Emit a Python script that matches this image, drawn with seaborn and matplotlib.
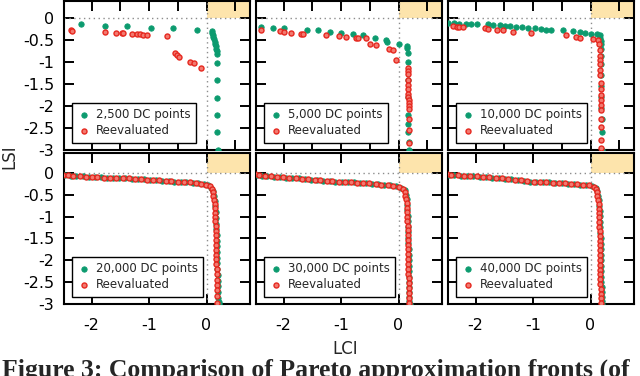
import numpy as np
import pandas as pd
import seaborn as sns
import matplotlib.pyplot as plt
from matplotlib.ticker import MultipleLocator, FuncFormatter

# panel titles (legend labels)
labels = ["2,500 DC points", "5,000 DC points", "10,000 DC points",
          "20,000 DC points", "30,000 DC points", "40,000 DC points"]

# --- 2,500 ---
g1_x = [-2.18, -1.77, -1.38, -0.97, -0.58, -0.17, 0.09, 0.10, 0.11, 0.12, 0.13, 0.14, 0.15, 0.16, 0.17, 0.18, 0.19, 0.19, 0.19, 0.19, 0.19, 0.19, 0.20]
g1_y = [-0.14, -0.17, -0.18, -0.22, -0.23, -0.27, -0.30, -0.34, -0.38, -0.43, -0.48, -0.53, -0.58, -0.63, -0.69, -0.75, -0.81, -1.01, -1.41, -1.81, -2.21, -2.60, -3.00]
r1_x = [-2.36, -2.34, -1.77, -1.58, -1.47, -1.45, -1.29, -1.21, -1.15, -1.10, -1.03, -0.68, -0.54, -0.51, -0.48, -0.28, -0.22, -0.09]
r1_y = [-0.26, -0.28, -0.31, -0.33, -0.33, -0.33, -0.35, -0.36, -0.36, -0.37, -0.37, -0.41, -0.80, -0.84, -0.88, -0.99, -1.02, -1.13]

# --- 5,000 ---
g2_x = [-2.39, -2.19, -1.99, -1.60, -1.40, -1.19, -1.00, -0.80, -0.61, -0.41, -0.21, -0.20, 0.00, 0.14, 0.14, 0.16, 0.16, 0.16, 0.17, 0.17, 0.17, 0.17, 0.18, 0.18]
g2_y = [-0.21, -0.22, -0.23, -0.26, -0.27, -0.31, -0.33, -0.35, -0.39, -0.46, -0.50, -0.53, -0.59, -0.64, -0.68, -0.80, -0.99, -1.41, -1.79, -2.20, -2.41, -2.60, -2.81, -3.00]
r2_x = [-2.39, -2.07, -1.99, -1.87, -1.70, -1.66, -1.27, -1.03, -0.91, -0.74, -0.70, -0.57, -0.50, -0.39, -0.16, -0.09, -0.05, 0.16, 0.17, 0.17, 0.17, 0.17, 0.17, 0.17, 0.17, 0.18, 0.18, 0.18, 0.18, 0.18, 0.18, 0.19]
r2_y = [-0.27, -0.29, -0.31, -0.33, -0.35, -0.35, -0.39, -0.41, -0.42, -0.44, -0.44, -0.46, -0.58, -0.60, -0.69, -0.73, -0.94, -1.14, -1.20, -1.27, -1.40, -1.52, -1.62, -1.72, -1.80, -1.86, -1.93, -2.00, -2.06, -2.30, -2.55, -2.85]

# --- 10,000 ---
g3_x = [-2.48, -2.37, -2.28, -2.16, -2.08, -1.98, -1.79, -1.69, -1.58, -1.48, -1.40, -1.30, -1.19, -1.09, -0.97, -0.87, -0.78, -0.68, -0.48, -0.30, -0.19, -0.09, 0.01, 0.11, 0.16, 0.17, 0.18, 0.18, 0.18, 0.19, 0.19, 0.19, 0.19, 0.19, 0.19, 0.20, 0.20, 0.20]
g3_y = [-0.11, -0.11, -0.12, -0.12, -0.14, -0.14, -0.14, -0.15, -0.16, -0.17, -0.18, -0.20, -0.21, -0.22, -0.23, -0.25, -0.26, -0.26, -0.27, -0.30, -0.32, -0.33, -0.35, -0.36, -0.39, -0.46, -0.52, -0.58, -0.70, -0.85, -1.05, -1.30, -1.55, -1.80, -2.05, -2.30, -2.60, -3.00]
r3_x = [-2.39, -2.33, -2.28, -2.22, -1.84, -1.79, -1.63, -1.53, -1.35, -1.03, -0.43, -0.25, -0.19, 0.04, 0.13, 0.15, 0.16, 0.16, 0.17, 0.17, 0.17, 0.17, 0.18, 0.18, 0.18, 0.18, 0.18, 0.18, 0.19, 0.19, 0.19, 0.19]
r3_y = [-0.18, -0.20, -0.20, -0.21, -0.23, -0.25, -0.26, -0.27, -0.31, -0.33, -0.39, -0.42, -0.45, -0.48, -0.50, -0.58, -0.73, -0.85, -0.95, -1.05, -1.18, -1.30, -1.48, -1.60, -1.75, -1.86, -1.97, -2.09, -2.30, -2.47, -2.77, -2.96]

# --- 20,000 ---
g4h_x = [-2.46, -2.36, -2.27, -2.15, -2.05, -1.94, -1.83, -1.74, -1.62, -1.52, -1.41, -1.30, -1.20, -1.09, -0.98, -0.88, -0.77, -0.66, -0.56, -0.45, -0.35, -0.24, -0.14, -0.05, 0.03]
g4h_y = [-0.06, -0.07, -0.08, -0.08, -0.09, -0.10, -0.10, -0.11, -0.12, -0.12, -0.13, -0.14, -0.14, -0.15, -0.16, -0.17, -0.18, -0.19, -0.20, -0.21, -0.22, -0.23, -0.24, -0.26, -0.29]
g4v_x = [0.08, 0.11, 0.13, 0.14, 0.15, 0.16, 0.16, 0.17, 0.17, 0.18, 0.18, 0.18, 0.19, 0.19, 0.19, 0.19, 0.20, 0.20, 0.20, 0.20, 0.20, 0.21, 0.21]
g4v_y = [-0.34, -0.42, -0.52, -0.64, -0.77, -0.90, -1.03, -1.16, -1.29, -1.42, -1.55, -1.68, -1.81, -1.94, -2.07, -2.20, -2.33, -2.46, -2.59, -2.72, -2.85, -2.94, -3.00]
r4h_x = [-2.49, -2.41, -2.32, -2.21, -2.10, -1.99, -1.90, -1.79, -1.68, -1.57, -1.46, -1.35, -1.25, -1.14, -1.03, -0.93, -0.82, -0.71, -0.61, -0.50, -0.40, -0.29, -0.19, -0.10, -0.01]
r4h_y = [-0.05, -0.06, -0.07, -0.08, -0.09, -0.09, -0.10, -0.11, -0.11, -0.12, -0.13, -0.13, -0.14, -0.15, -0.16, -0.16, -0.17, -0.18, -0.19, -0.20, -0.21, -0.22, -0.24, -0.25, -0.27]
r4v_x = [0.06, 0.09, 0.11, 0.12, 0.13, 0.14, 0.14, 0.15, 0.15, 0.15, 0.16, 0.16, 0.16, 0.16, 0.17, 0.17, 0.17, 0.17, 0.17, 0.18, 0.18, 0.18, 0.18, 0.18, 0.18, 0.18]
r4v_y = [-0.31, -0.37, -0.44, -0.53, -0.62, -0.71, -0.80, -0.91, -1.01, -1.11, -1.22, -1.33, -1.43, -1.54, -1.65, -1.76, -1.87, -1.98, -2.09, -2.20, -2.32, -2.44, -2.56, -2.68, -2.82, -2.98]

# --- 30,000 ---
g5h_x = [-2.47, -2.38, -2.28, -2.17, -2.06, -1.96, -1.85, -1.74, -1.63, -1.52, -1.41, -1.31, -1.20, -1.10, -0.99, -0.88, -0.78, -0.67, -0.57, -0.46, -0.35, -0.25, -0.14, -0.05, 0.05]
g5h_y = [-0.05, -0.07, -0.08, -0.09, -0.10, -0.11, -0.12, -0.13, -0.14, -0.16, -0.17, -0.18, -0.19, -0.20, -0.21, -0.22, -0.22, -0.23, -0.24, -0.25, -0.26, -0.28, -0.29, -0.31, -0.34]
g5v_x = [0.11, 0.13, 0.14, 0.15, 0.15, 0.16, 0.16, 0.17, 0.17, 0.17, 0.17, 0.18, 0.18, 0.18, 0.18, 0.18, 0.19, 0.19, 0.19, 0.19, 0.19, 0.19, 0.20]
g5v_y = [-0.40, -0.50, -0.61, -0.73, -0.86, -0.98, -1.11, -1.23, -1.36, -1.49, -1.61, -1.74, -1.87, -1.99, -2.12, -2.24, -2.37, -2.49, -2.61, -2.73, -2.84, -2.93, -3.00]
r5h_x = [-2.49, -2.43, -2.33, -2.22, -2.11, -2.01, -1.90, -1.79, -1.68, -1.57, -1.46, -1.36, -1.25, -1.15, -1.04, -0.93, -0.83, -0.72, -0.62, -0.51, -0.40, -0.30, -0.19, -0.09, 0.01]
r5h_y = [-0.04, -0.06, -0.07, -0.08, -0.09, -0.10, -0.12, -0.13, -0.14, -0.15, -0.16, -0.17, -0.18, -0.19, -0.20, -0.21, -0.22, -0.23, -0.24, -0.24, -0.25, -0.27, -0.28, -0.30, -0.32]
r5v_x = [0.08, 0.11, 0.12, 0.13, 0.14, 0.14, 0.15, 0.15, 0.15, 0.16, 0.16, 0.16, 0.16, 0.16, 0.17, 0.17, 0.17, 0.17, 0.17, 0.17, 0.18, 0.18, 0.18, 0.18, 0.18, 0.18]
r5v_y = [-0.36, -0.43, -0.52, -0.61, -0.70, -0.80, -0.90, -1.00, -1.10, -1.21, -1.31, -1.42, -1.53, -1.64, -1.75, -1.86, -1.97, -2.08, -2.19, -2.30, -2.41, -2.52, -2.63, -2.74, -2.86, -2.97]

# --- 40,000 ---
g6h_x = [-2.46, -2.37, -2.26, -2.15, -2.04, -1.93, -1.82, -1.71, -1.60, -1.49, -1.38, -1.27, -1.16, -1.05, -0.94, -0.83, -0.72, -0.61, -0.50, -0.39, -0.28, -0.18, -0.08, 0.02, 0.09]
g6h_y = [-0.05, -0.06, -0.07, -0.07, -0.08, -0.09, -0.10, -0.11, -0.12, -0.14, -0.15, -0.17, -0.18, -0.20, -0.21, -0.22, -0.22, -0.23, -0.24, -0.25, -0.26, -0.27, -0.28, -0.31, -0.35]
g6v_x = [0.12, 0.13, 0.14, 0.15, 0.16, 0.16, 0.17, 0.17, 0.17, 0.18, 0.18, 0.18, 0.18, 0.19, 0.19, 0.19, 0.19, 0.19, 0.20, 0.20, 0.20, 0.20, 0.20]
g6v_y = [-0.42, -0.52, -0.63, -0.75, -0.87, -0.99, -1.12, -1.24, -1.37, -1.49, -1.62, -1.74, -1.87, -1.99, -2.12, -2.24, -2.37, -2.49, -2.61, -2.73, -2.84, -2.93, -3.00]
r6h_x = [-2.49, -2.42, -2.31, -2.20, -2.09, -1.98, -1.87, -1.76, -1.65, -1.54, -1.43, -1.32, -1.21, -1.10, -0.99, -0.88, -0.77, -0.66, -0.55, -0.45, -0.34, -0.23, -0.13, -0.03, 0.06]
r6h_y = [-0.04, -0.05, -0.06, -0.07, -0.08, -0.08, -0.09, -0.10, -0.12, -0.13, -0.14, -0.16, -0.17, -0.19, -0.20, -0.21, -0.22, -0.23, -0.23, -0.24, -0.25, -0.26, -0.27, -0.29, -0.32]
r6v_x = [0.09, 0.11, 0.12, 0.13, 0.14, 0.14, 0.15, 0.15, 0.15, 0.15, 0.16, 0.16, 0.16, 0.16, 0.16, 0.17, 0.17, 0.17, 0.17, 0.17, 0.17, 0.17, 0.18, 0.18, 0.18, 0.18]
r6v_y = [-0.37, -0.44, -0.53, -0.62, -0.72, -0.82, -0.92, -1.02, -1.12, -1.23, -1.33, -1.44, -1.55, -1.66, -1.77, -1.88, -1.99, -2.10, -2.21, -2.32, -2.43, -2.54, -2.65, -2.76, -2.87, -2.98]

green_sets = [(g1_x, g1_y), (g2_x, g2_y), (g3_x, g3_y),
              (g4h_x + g4v_x, g4h_y + g4v_y),
              (g5h_x + g5v_x, g5h_y + g5v_y),
              (g6h_x + g6v_x, g6h_y + g6v_y)]
red_sets = [(r1_x, r1_y), (r2_x, r2_y), (r3_x, r3_y),
            (r4h_x + r4v_x, r4h_y + r4v_y),
            (r5h_x + r5v_x, r5h_y + r5v_y),
            (r6h_x + r6v_x, r6h_y + r6v_y)]

GREEN = "#0c9b6f"
RED = "#e6281f"
RED_FACE = "#f27a70"
SHADE = "#fde4ac"

sns.set_theme(style="ticks")
plt.rcParams['font.family'] = ['DejaVu Sans']
plt.rcParams['axes.unicode_minus'] = False

fig = plt.figure(figsize=(6.4, 3.76), dpi=100)
lefts = [0.1, 0.4, 0.7]
bottoms = [0.601, 0.191]
heights = [0.396, 0.402]
tops = [0.39, 0.45]

fmt = FuncFormatter(lambda v, p: '0' if abs(v) < 1e-9 else '%g' % v)

for i in range(6):
    r, c = divmod(i, 3)
    ax = fig.add_axes([lefts[c], bottoms[r], 0.29, heights[r]])
    ax.fill_between([0, 1], 0, 1, color=SHADE, lw=0, zorder=0)
    ax.axhline(0, color='#8c8c8c', ls=(0, (1, 2.5)), lw=1, zorder=1)
    ax.axvline(0, color='#8c8c8c', ls=(0, (1, 2.5)), lw=1, zorder=1)

    gx, gy = green_sets[i]
    rx, ry = red_sets[i]
    sns.scatterplot(x=gx, y=gy, ax=ax, color=GREEN, edgecolor=GREEN, s=15,
                    linewidth=0.6, label=labels[i], zorder=3)
    sns.scatterplot(x=rx, y=ry, ax=ax, color=RED_FACE, edgecolor=RED, s=13,
                    linewidth=1.0, label="Reevaluated", zorder=4)

    ax.set_xlim(-2.48, 0.75)
    ax.set_ylim(-3, tops[r])
    ax.set(xlabel='', ylabel='')
    ax.xaxis.set_major_locator(MultipleLocator(0.5 if r == 0 else 1))
    ax.yaxis.set_major_locator(MultipleLocator(0.5))
    ax.xaxis.set_major_formatter(fmt)
    ax.yaxis.set_major_formatter(fmt)
    ax.tick_params(direction='in', top=True, right=True, length=7, width=1.4,
                   color='black', labelsize=11.5, labelcolor='black')
    ax.tick_params(axis='x', pad=10)
    ax.tick_params(axis='y', pad=7)
    if c != 0:
        ax.tick_params(labelleft=False)
    if r == 0:
        ax.tick_params(labelbottom=False)
    for sp in ax.spines.values():
        sp.set_linewidth(1.5)
        sp.set_color('black')

    leg = ax.legend(loc='lower left', bbox_to_anchor=(0.045, 0.05), borderaxespad=0,
                    frameon=True, fancybox=False, edgecolor='black', framealpha=1,
                    fontsize=8.5, handletextpad=0.45, handlelength=1.1,
                    borderpad=0.45, labelspacing=0.25)
    leg.get_frame().set_linewidth(1.0)

fig.text(0.539, 1 - 349 / 376, 'LCI', ha='center', va='center', fontsize=12)
fig.text(0.014, 1 - 157 / 376, 'LSI', ha='center', va='center', rotation=90, fontsize=12)
fig.text(0.003, 1 - 359 / 376, 'Figure 3: Comparison of Pareto approximation fronts (of',
         ha='left', va='top', fontsize=18.5, fontweight='bold', family=['Liberation Serif'])

plt.savefig('out.png', dpi=100)
